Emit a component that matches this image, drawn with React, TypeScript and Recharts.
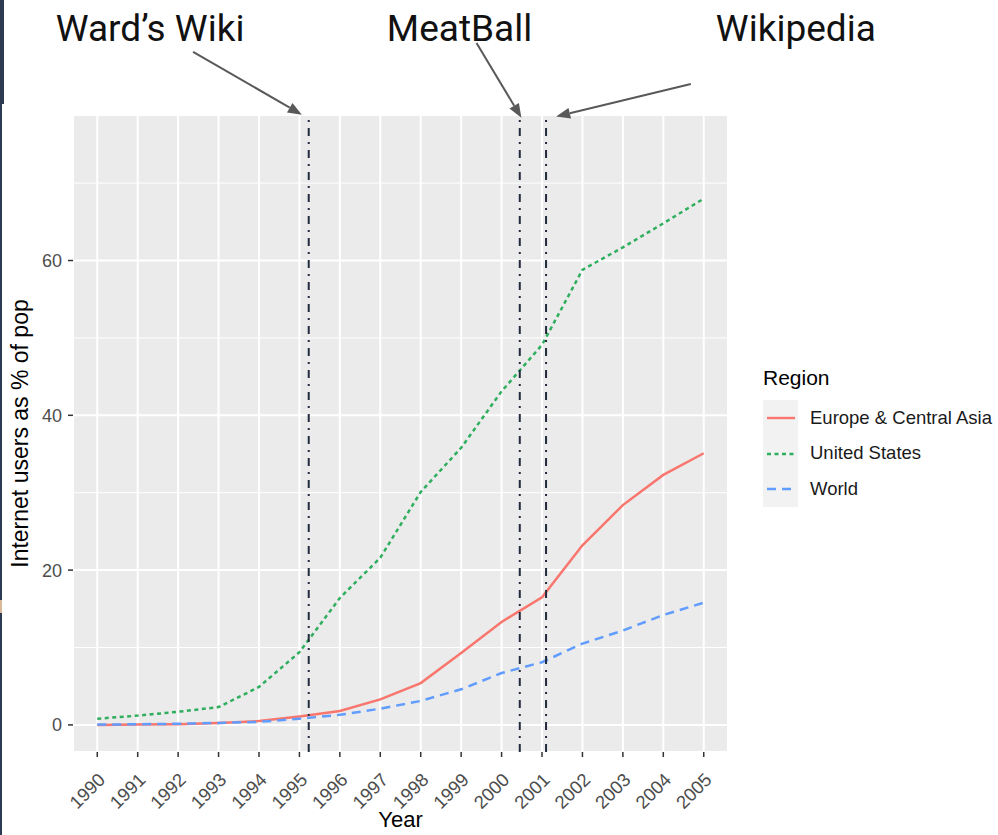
import React from "react";
import { LineChart, Line, XAxis, YAxis, CartesianGrid, ReferenceLine } from "recharts";

const years = [1990, 1991, 1992, 1993, 1994, 1995, 1996, 1997, 1998, 1999, 2000, 2001, 2002, 2003, 2004, 2005];
const europe = [0.0, 0.05, 0.1, 0.25, 0.5, 1.1, 1.8, 3.3, 5.4, 9.3, 13.3, 16.5, 23.2, 28.4, 32.3, 35.1];
const unitedStates = [0.8, 1.2, 1.7, 2.3, 4.9, 9.4, 16.4, 21.6, 30.1, 35.8, 43.1, 49.1, 58.8, 61.7, 64.8, 68.0];
const world = [0.05, 0.08, 0.15, 0.25, 0.4, 0.8, 1.3, 2.1, 3.1, 4.6, 6.7, 8.1, 10.5, 12.2, 14.2, 15.8];

const yTicks = [0, 20, 40, 60];
const yMinorTicks = [10, 30, 50, 70];

// launch dates of the three wikis (fractional year)
const wikiNames = ["Ward’s Wiki", "MeatBall", "Wikipedia"];
const wikiDates = [1995.23, 2000.45, 2001.1];

const data = years.map((year, i) => ({
  year,
  europe: europe[i],
  us: unitedStates[i],
  world: world[i],
}));

const series = [
  { key: "europe", name: "Europe & Central Asia", color: "#F8766D", dash: undefined },
  { key: "us", name: "United States", color: "#2fae5e", dash: "4 3.5" },
  { key: "world", name: "World", color: "#619CFF", dash: "9 6" },
];

// callout arrows, in chart data coordinates (drawn above the panel)
const callouts = [
  { label: wikiNames[0], from: { x: 1992.37, y: 86.97 }, to: { x: 1995.06, y: 78.84 }, dx: -43, dy: -11 },
  { label: wikiNames[1], from: { x: 1999.38, y: 88.1 }, to: { x: 2000.49, y: 78.45 }, dx: -17, dy: -2 },
  { label: wikiNames[2], from: { x: 2004.68, y: 82.8 }, to: { x: 2001.35, y: 78.6 }, dx: 105, dy: -43 },
];

const FONT = "'Liberation Sans', Arial, Helvetica, sans-serif";

const XTick = (props: any) => {
  const { x, y, payload } = props;
  return (
    <g transform={`translate(${x + 9},${y + 22})`}>
      <text textAnchor="end" transform="rotate(-45)" fontSize={18.5} fill="#4d4d4d" fontFamily={FONT}>
        {payload.value}
      </text>
    </g>
  );
};

function arrowShape(c: (typeof callouts)[number]) {
  return (p: any) => {
    const { x1, y1, x2, y2 } = p;
    const ang = Math.atan2(y2 - y1, x2 - x1);
    const L = 14;
    const W = 5.5;
    const bx = x2 - L * Math.cos(ang);
    const by = y2 - L * Math.sin(ang);
    const px = -Math.sin(ang) * W;
    const py = Math.cos(ang) * W;
    return (
      <g>
        <line x1={x1} y1={y1} x2={bx} y2={by} stroke="#595959" strokeWidth={2} />
        <polygon points={`${x2},${y2} ${bx + px},${by + py} ${bx - px},${by - py}`} fill="#595959" />
        <text x={x1 + c.dx} y={y1 + c.dy} textAnchor="middle" fontSize={37} fontFamily="Roboto" fill="#111">
          {c.label}
        </text>
      </g>
    );
  };
}

function LegendBox() {
  return (
    <div style={{ position: "absolute", left: 763, top: 366, fontFamily: FONT }}>
      <div style={{ fontSize: 21, color: "#000", marginBottom: 10, lineHeight: "24px" }}>Region</div>
      {series.map((s) => (
        <div key={s.key} style={{ display: "flex", alignItems: "center", height: 35.5 }}>
          <svg width={35} height={35.5} style={{ background: "#F2F2F2", display: "block" }}>
            <line x1={4} x2={32} y1={18} y2={18} stroke={s.color} strokeWidth={2.4} strokeDasharray={s.dash} />
          </svg>
          <span style={{ fontSize: 18.5, color: "#1a1a1a", marginLeft: 12 }}>{s.name}</span>
        </div>
      ))}
    </div>
  );
}

export default function App() {
  return (
    <div style={{ position: "absolute", left: 0, top: 0, width: 998, height: 835, background: "#fff" }}>
      <div style={{ position: "absolute", left: 0, top: 0, width: 4, height: 104, background: "#2c3a52" }} />
      <div style={{ position: "absolute", left: 0, top: 104, width: 2, height: 731, background: "#2c3a52" }} />
      <div style={{ position: "absolute", left: 0, top: 600, width: 2, height: 13, background: "#d9b89a" }} />
      <LineChart width={998} height={835} data={data} margin={{ top: 115, right: 270, bottom: 0, left: 0 }}>
        <CartesianGrid
          horizontalValues={yMinorTicks}
          vertical={false}
          stroke="#ffffff"
          strokeWidth={1}
          fill="#EBEBEB"
          fillOpacity={1}
        />
        <CartesianGrid stroke="#ffffff" strokeWidth={2} />
        <XAxis
          dataKey="year"
          type="number"
          domain={[1989.4, 2005.6]}
          allowDataOverflow
          ticks={years}
          interval={0}
          height={83}
          axisLine={false}
          tickSize={5}
          tickLine={{ stroke: "#333333", strokeWidth: 1.5 }}
          tick={<XTick />}
          label={(lp: any) => {
            const vb = lp.viewBox;
            return (
              <text x={vb.x + vb.width / 2} y={vb.y + 75} textAnchor="middle" fontSize={22} fontFamily={FONT} fill="#000">
                Year
              </text>
            );
          }}
        />
        <YAxis
          type="number"
          domain={[-3.5, 78.8]}
          allowDataOverflow
          ticks={yTicks}
          width={73}
          axisLine={false}
          tickSize={5}
          tickMargin={6}
          tickLine={{ stroke: "#333333", strokeWidth: 1.5 }}
          tick={{ fill: "#4d4d4d", fontSize: 18, fontFamily: FONT }}
          label={(lp: any) => {
            const vb = lp.viewBox;
            const cx = 28;
            const cy = vb.y + vb.height / 2;
            return (
              <text x={cx} y={cy} transform={`rotate(-90 ${cx} ${cy})`} textAnchor="middle" fontSize={23} fontFamily={FONT} fill="#000">
                Internet users as % of pop
              </text>
            );
          }}
        />
        {series.map((s) => (
          <Line
            key={s.key}
            dataKey={s.key}
            name={s.name}
            type="linear"
            stroke={s.color}
            strokeWidth={2.5}
            strokeDasharray={s.dash}
            dot={false}
            activeDot={false}
            isAnimationActive={false}
          />
        ))}
        {wikiDates.map((d, i) => (
          <ReferenceLine key={wikiNames[i]} x={d} stroke="#222b3d" strokeWidth={2} strokeDasharray="8 6 2 6" />
        ))}
        {callouts.map((c) => (
          <ReferenceLine key={c.label + "-arrow"} segment={[c.from, c.to]} ifOverflow="visible" shape={arrowShape(c)} />
        ))}
      </LineChart>
      <LegendBox />
    </div>
  );
}
